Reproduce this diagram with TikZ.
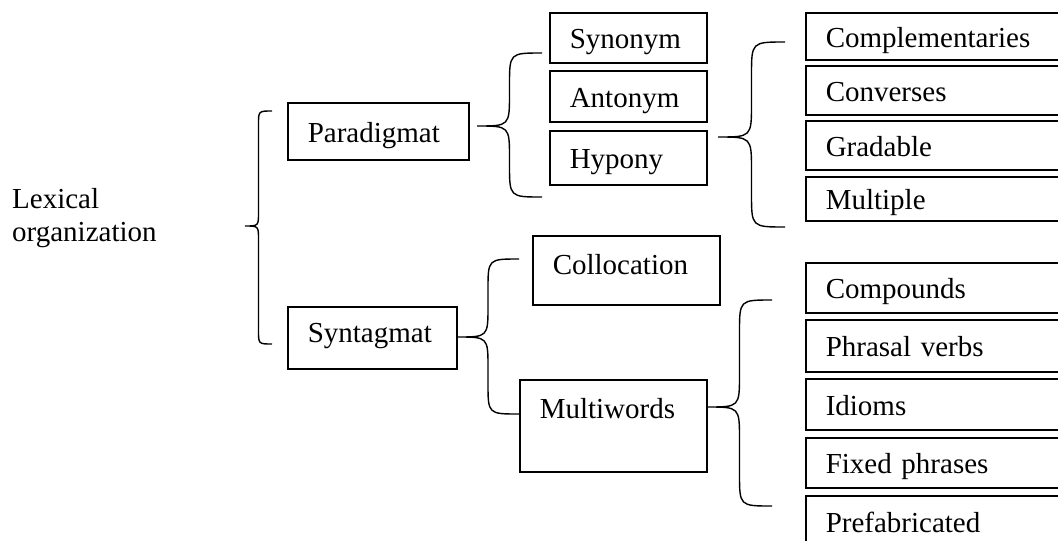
\documentclass[tikz,border=0pt]{standalone}
\usepackage{fontspec}
\setmainfont{Liberation Serif}
\usetikzlibrary{calc}
\begin{document}
\begin{tikzpicture}[x=1pt,y=-1pt,font=\fontsize{29}{33}\selectfont]
 \tikzset{box/.style={draw, line width=1.5pt, anchor=north west, inner xsep=20pt, inner ysep=0pt, align=left, text height=30pt, text depth=8pt}}
 \tikzset{curly/.style={line width=1.4pt, to path={let \p1=(\tikztostart), \p2=(\tikztotarget), \p3=($(\p1)!0.5!(\p2)$), \n2={((\y2>\y1)*2-1)*abs(\x2-\x1)/2} in .. controls (\x3,\y1) .. (\x3,{\y1+\n2}) -- (\x3,{\y2-\n2}) .. controls (\x3,\y2) .. (\tikztotarget)}}}
  \useasboundingbox (0,0) rectangle (1058,541);
  \clip (0,0) rectangle (1058,541);
  \node[align=left, anchor=west, inner sep=0pt] (LEX) at (12,218) {Lexical\\organization};
  \node[box, text width=141pt, minimum height=57pt] (PARA) at (287,102) {Paradigmat};
  \node[box, text width=129pt, minimum height=62pt, text height=24pt, text depth=15pt] (SYNT) at (287,306) {Syntagmat};
  \node[box, text width=117pt, minimum height=50pt] (SYN) at (549,12) {Synonym};
  \node[box, text width=117pt, minimum height=51pt] (ANT) at (549,70) {Antonym};
  \node[box, text width=117pt, minimum height=54pt] (HYP) at (549,130) {Hypony};
  \node[box, text width=147pt, minimum height=69pt, text height=24pt, text depth=15pt] (COLL) at (532,235) {Collocation};
  \node[box, text width=147pt, minimum height=92pt, text height=20pt, text depth=34pt] (MULTI) at (519,379) {Multiwords};
  \node[box, text width=240pt, minimum height=47pt] (COMPL) at (805,12) {Complementaries};
  \node[box, text width=240pt, minimum height=49pt] (CONV) at (805,65) {Converses};
  \node[box, text width=240pt, minimum height=49pt] (GRAD) at (805,120) {Gradable};
  \node[box, text width=240pt, minimum height=44pt] (MULT) at (805,176) {Multiple};
  \node[box, text width=240pt, minimum height=50pt] (COMP) at (805,262) {Compounds};
  \node[box, text width=240pt, minimum height=52pt] (PHR) at (805,319) {Phrasal verbs};
  \node[box, text width=240pt, minimum height=51pt] (IDI) at (805,378) {Idioms};
  \node[box, text width=240pt, minimum height=50pt] (FIX) at (805,437) {Fixed phrases};
  \node[box, text width=240pt, minimum height=52pt] (PRE) at (805,495) {Prefabricated};
  \coordinate (LOTIP) at (245,226);
  \coordinate (LOTOP) at (272,111);
  \coordinate (LOBOT) at (272,344);
  \coordinate (PDTIP) at (477,126);
  \coordinate (PDTOP) at (542,53);
  \coordinate (PDBOT) at (542,197);
  \coordinate (HYTIP) at (718,137);
  \coordinate (HYTOP) at (785,42);
  \coordinate (HYBOT) at (785,227);
  \coordinate (STTIP) at (457,337);
  \coordinate (STTOP) at (519,259);
  \coordinate (STBOT) at (519,414);
  \coordinate (MWTIP) at (707,407);
  \coordinate (MWTOP) at (772,300);
  \coordinate (MWBOT) at (772,506);
  \draw[curly] (LOTIP) to (LOTOP) (LOTIP) to (LOBOT);
  \draw[curly] (PDTIP) to (PDTOP) (PDTIP) to (PDBOT);
  \draw[curly] (HYTIP) to (HYTOP) (HYTIP) to (HYBOT);
  \draw[curly] (STTIP) to (STTOP) (STTIP) to (STBOT);
  \draw[curly] (MWTIP) to (MWTOP) (MWTIP) to (MWBOT);
\end{tikzpicture}
\end{document}
